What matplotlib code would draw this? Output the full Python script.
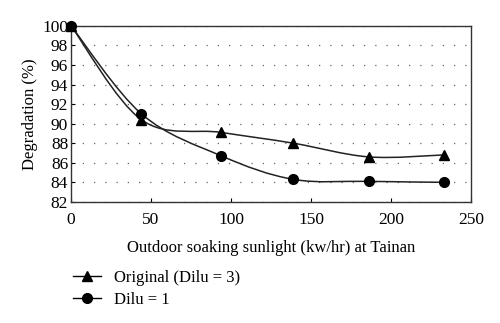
import numpy as np
import matplotlib.pyplot as plt
from matplotlib.path import Path
from matplotlib.patches import PathPatch
from matplotlib.lines import Line2D

plt.rcParams['font.family'] = ['Liberation Serif', 'DejaVu Serif']

sunlight = [0, 44, 94, 139, 186, 233]
original = [100, 90.4, 89.1, 88.0, 86.6, 86.8]
dilu1 = [100, 91.0, 86.7, 84.3, 84.1, 84.0]

labels = ['Original (Dilu = 3)', 'Dilu = 1']


def smooth_path(x, y, tension=0.5):
    # cubic bezier through the points, spreadsheet-style smoothing
    x = np.asarray(x, float)
    y = np.asarray(y, float)
    verts = [(x[0], y[0])]
    codes = [Path.MOVETO]
    n = len(x)
    for i in range(n - 1):
        x0, y0 = (x[i - 1], y[i - 1]) if i > 0 else (x[i], y[i])
        x3, y3 = (x[i + 2], y[i + 2]) if i + 2 < n else (x[i + 1], y[i + 1])
        c1 = (x[i] + (x[i + 1] - x0) * tension / 3, y[i] + (y[i + 1] - y0) * tension / 3)
        c2 = (x[i + 1] - (x3 - x[i]) * tension / 3, y[i + 1] - (y3 - y[i]) * tension / 3)
        verts += [c1, c2, (x[i + 1], y[i + 1])]
        codes += [Path.CURVE4] * 3
    return Path(verts, codes)


fig = plt.figure(figsize=(5, 3.23), dpi=100)
ax = fig.add_axes([0.142, 0.375, 0.8, 0.545])

for ys, m in [(original, '^'), (dilu1, 'o')]:
    ax.add_patch(PathPatch(smooth_path(sunlight, ys), facecolor='none',
                           edgecolor='#222222', lw=1.1, zorder=3))
    ax.plot(sunlight, ys, ls='none', marker=m, ms=7, color='black',
            zorder=4, clip_on=False)

ax.set_xlim(0, 250)
ax.set_ylim(82, 100)
ax.set_xticks(range(0, 251, 50))
ax.set_yticks(range(82, 101, 2))
ax.yaxis.grid(True, ls=(0, (1, 8)), color='#666666', lw=0.9)
ax.tick_params(direction='in', labelsize=12.5, length=3, colors='black')
ax.tick_params(axis='x', pad=7)
ax.tick_params(axis='y', pad=2)
for s in ax.spines.values():
    s.set_color('#333333')
    s.set_linewidth(1.0)

ax.set_xlabel('Outdoor soaking sunlight (kw/hr) at Tainan', fontsize=12, labelpad=9)
ax.set_ylabel('Degradation (%)', fontsize=12, labelpad=3)

handles = [Line2D([], [], color='black', marker='^', ms=7, lw=1),
           Line2D([], [], color='black', marker='o', ms=7, lw=1)]
fig.legend(handles, labels, loc='upper left', bbox_to_anchor=(0.132, 0.185),
           frameon=False, fontsize=12, handlelength=1.7, handletextpad=0.8,
           labelspacing=0.35, borderaxespad=0)

fig.savefig('out.png', dpi=100)
